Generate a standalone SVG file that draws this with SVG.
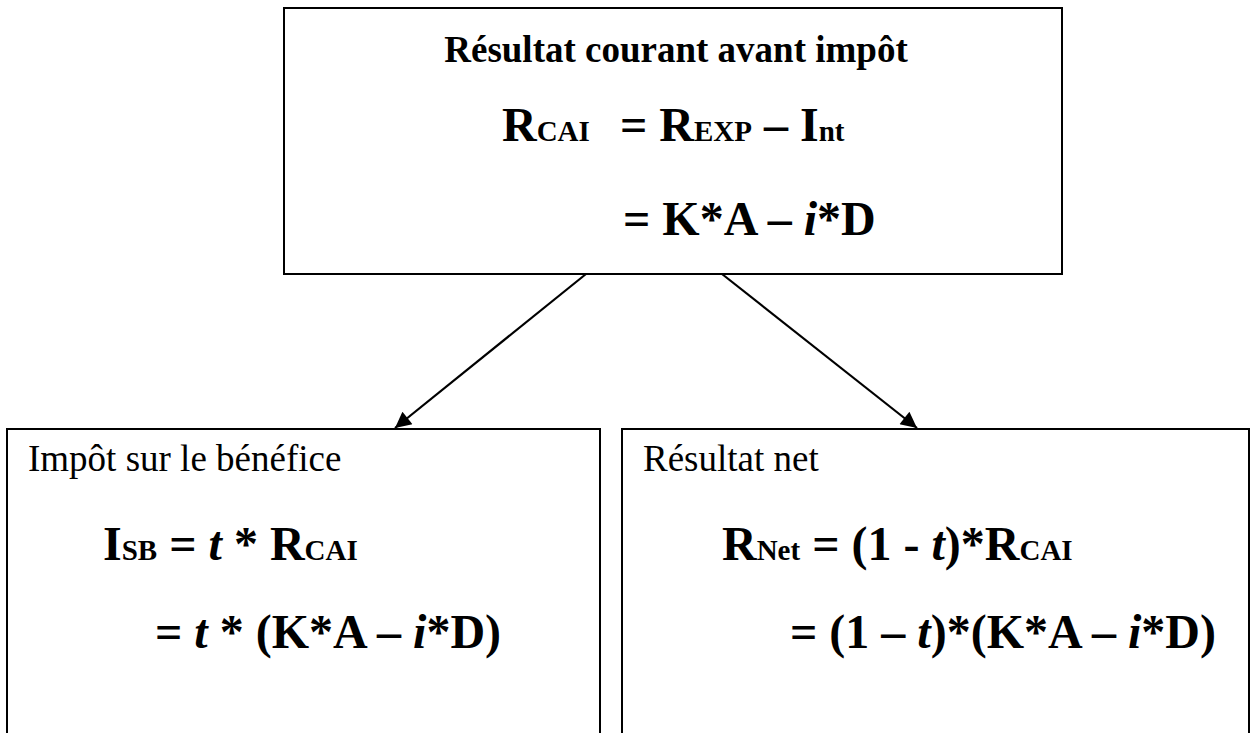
<svg xmlns="http://www.w3.org/2000/svg" width="1250" height="733" viewBox="0 0 1250 733">
<defs>
<style>
.box{fill:#fff;stroke:#000;stroke-width:2}
.lbl{font-family:"Liberation Serif","Times New Roman",serif;font-size:37px;fill:#000}
.b{font-weight:bold}
.f{font-family:"Liberation Serif","Times New Roman",serif;font-size:48px;font-weight:bold;fill:#000}
.s{font-size:29px}
.it{font-style:italic}
.conn{stroke:#000;stroke-width:2.2;fill:none}
</style>
<marker id="ah" viewBox="0 0 10 10" refX="10" refY="5" markerWidth="20" markerHeight="16" markerUnits="userSpaceOnUse" orient="auto">
<path d="M0,0 L10,5 L0,10 z" fill="#000"/>
</marker>
</defs>
<rect width="1250" height="733" fill="#fff"/>
<g id="connectors">
<line class="conn" x1="586" y1="274" x2="395" y2="428" marker-end="url(#ah)"/>
<line class="conn" x1="722" y1="274" x2="917" y2="428" marker-end="url(#ah)"/>
</g>
<g id="node-rcai">
<rect class="box" x="284" y="8" width="778" height="266"/>
<text class="lbl b" x="676" y="62" text-anchor="middle">Résultat courant avant impôt</text>
<text class="f" x="502" y="141">R<tspan class="s">CAI</tspan></text>
<text class="f" x="620" y="141">= R<tspan class="s">EXP</tspan> – I<tspan class="s">nt</tspan></text>
<text class="f" x="623" y="235">= K*A – <tspan class="it">i</tspan>*D</text>
</g>
<g id="node-impot">
<rect class="box" x="7" y="429" width="593" height="340"/>
<text class="lbl" x="28" y="471">Impôt sur le bénéfice</text>
<text class="f" x="103" y="560">I<tspan class="s">SB</tspan> = <tspan class="it">t</tspan> * R<tspan class="s">CAI</tspan></text>
<text class="f" x="155" y="648">= <tspan class="it">t</tspan> * (K*A – <tspan class="it">i</tspan>*D)</text>
</g>
<g id="node-net">
<rect class="box" x="622" y="429" width="627" height="340"/>
<text class="lbl" x="643" y="471">Résultat net</text>
<text class="f" x="722" y="560">R<tspan class="s">Net</tspan> = (1 - <tspan class="it">t</tspan>)*R<tspan class="s">CAI</tspan></text>
<text class="f" x="790" y="648">= (1 – <tspan class="it">t</tspan>)*(K*A – <tspan class="it">i</tspan>*D)</text>
</g>
</svg>
